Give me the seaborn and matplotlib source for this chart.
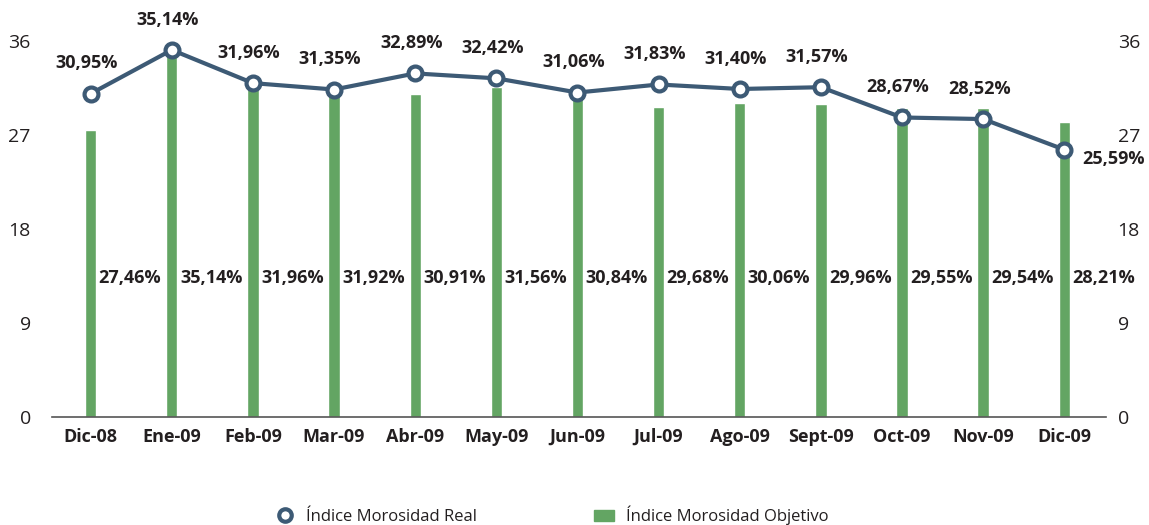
import numpy as np
import pandas as pd
import matplotlib
matplotlib.use("Agg")
import matplotlib.pyplot as plt
import seaborn as sns
from matplotlib.lines import Line2D
from matplotlib.patches import Patch

months = ["Dic-08", "Ene-09", "Feb-09", "Mar-09", "Abr-09", "May-09", "Jun-09",
          "Jul-09", "Ago-09", "Sept-09", "Oct-09", "Nov-09", "Dic-09"]
real = [30.95, 35.14, 31.96, 31.35, 32.89, 32.42, 31.06, 31.83, 31.40, 31.57, 28.67, 28.52, 25.59]
objetivo = [27.46, 35.14, 31.96, 31.92, 30.91, 31.56, 30.84, 29.68, 30.06, 29.96, 29.55, 29.54, 28.21]
yticks = [0, 9, 18, 27, 36]

line_color = "#3d5a75"
bar_color = "#63a563"
text_color = "#231f20"

sns.set_style("white")
plt.rcParams['font.family'] = ['Open Sans', 'DejaVu Sans']

df = pd.DataFrame({"mes": months, "real": real, "objetivo": objetivo})
df["pos"] = np.arange(len(df))

fig = plt.figure(figsize=(11.49, 5.25), dpi=100)
ax = fig.add_axes([0.045, 0.206, 0.918, 0.716])

sns.barplot(data=df, x="mes", y="objetivo", color=bar_color, width=0.14,
            saturation=1, ax=ax)
sns.lineplot(data=df, x="pos", y="real", color=line_color, linewidth=3,
             marker="o", markersize=10, markerfacecolor="white",
             markeredgecolor=line_color, markeredgewidth=3, ax=ax)

# bar labels (to the right of each bar)
for i, v in enumerate(objetivo):
    ax.text(i + 0.1, 13.3, f"{v:.2f}%".replace(".", ","), ha="left", va="center",
            fontsize=13, fontweight="bold", color=text_color)

# line labels
for i, v in enumerate(real):
    lab = f"{v:.2f}%".replace(".", ",")
    if i == len(real) - 1:
        ax.text(i + 0.22, v - 0.9, lab, ha="left", va="center",
                fontsize=13, fontweight="bold", color=text_color)
    else:
        ax.text(i - 0.05, v + 2.9, lab, ha="center", va="center",
                fontsize=13, fontweight="bold", color=text_color)

ax.set_xlim(-0.48, 12.52)
ax.set_ylim(0, 36)
ax.set_yticks(yticks)
ax.set_yticklabels([str(t) for t in yticks])
ax.tick_params(axis="y", labelsize=14, labelcolor=text_color, length=0, pad=15)
ax.tick_params(axis="x", labelsize=13, length=0, pad=8)
for lab in ax.get_xticklabels():
    lab.set_fontweight("bold")
    lab.set_color(text_color)
ax.set_xlabel("")
ax.set_ylabel("")
for s in ["top", "left", "right"]:
    ax.spines[s].set_visible(False)
ax.spines["bottom"].set_color("#555555")
ax.spines["bottom"].set_linewidth(1.2)

# right-hand axis with the same scale
ax2 = ax.twinx()
ax2.set_ylim(0, 36)
ax2.set_yticks(yticks)
ax2.set_yticklabels([str(t) for t in yticks])
ax2.tick_params(axis="y", labelsize=14, labelcolor=text_color, length=0, pad=8)
for s in ["top", "left", "right", "bottom"]:
    ax2.spines[s].set_visible(False)
ax2.grid(False)

handles = [
    Line2D([0], [0], color=line_color, linestyle="none", marker="o", markersize=9,
           markerfacecolor="white", markeredgecolor=line_color, markeredgewidth=3),
    Patch(facecolor=bar_color, edgecolor=bar_color),
]
fig.legend(handles, ["Índice Morosidad Real", "Índice Morosidad Objetivo"],
           loc="center", bbox_to_anchor=(0.48, 0.018), ncol=2, frameon=False,
           fontsize=12, columnspacing=7, handlelength=1.2, handletextpad=0.7,
           labelcolor=text_color)

fig.savefig("out.png", dpi=100)
